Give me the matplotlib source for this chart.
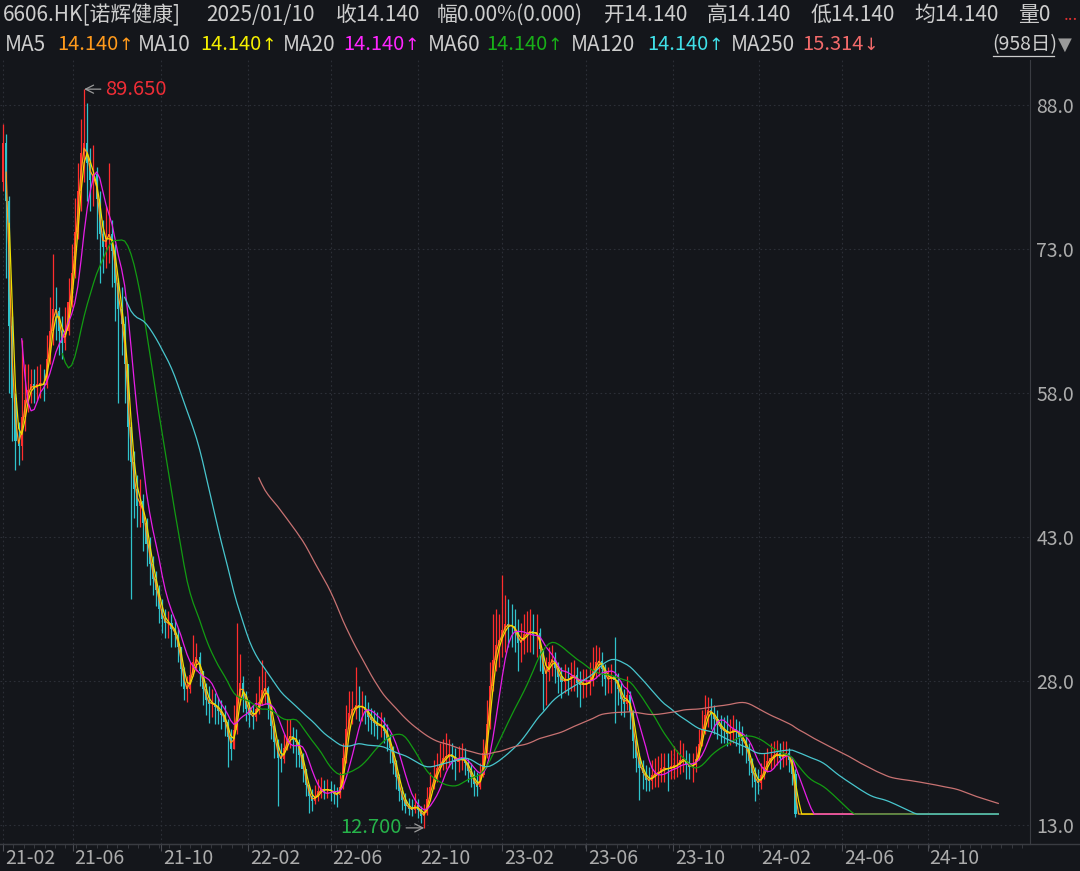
import numpy as np
import pandas as pd
import matplotlib
matplotlib.use('Agg')
import matplotlib.pyplot as plt
from matplotlib.lines import Line2D
from matplotlib.ticker import MultipleLocator

plt.rcParams['font.family'] = ['Noto Sans CJK SC', 'DejaVu Sans']

# Prices, one sample every 3 trading days from 2021-02-18
step = 3
close = [84, 78, 65, 57.5, 53, 52.5, 55.5, 57.3, 58.3, 58.9,
         58.5, 58.9, 59, 58.8, 61.5, 64.5, 66.8, 66.5, 64.5, 63.2,
         64.5, 67.5, 70.5, 74.8, 79, 83, 84, 82, 80.2, 80.8,
         78.2, 74.6, 73.2, 74.4, 74.6, 72.8, 69.5, 66.8, 65.2, 61,
         54.5, 50.8, 48, 46.2, 46.8, 44.5, 42.3, 40.2, 38.6, 37.5,
         35.5, 34.5, 34, 34, 33.4, 32.8, 31.5, 29.2, 27.2, 27.2,
         28.6, 30, 30.5, 29, 27.2, 26, 25.6, 25.7, 25.3, 24.9,
         24.5, 23.7, 22.2, 20.9, 22.9, 26.5, 27.8, 26.4, 25.1, 24.5,
         24.2, 25.1, 25.8, 27.1, 27.3, 25.5, 23.3, 21.6, 20, 19.9,
         21, 22.1, 22.3, 21.9, 21.6, 20.3, 18.8, 17.2, 16, 15.5,
         16, 16.5, 16.8, 16.6, 16.7, 16.5, 16.2, 16.1, 17, 20,
         23, 24.7, 25.1, 25.5, 25.3, 25.3, 25, 24.2, 23.9, 23.6,
         23.3, 23.4, 22.8, 22, 21, 19.5, 18, 16.5, 15.6, 15,
         14.7, 14.6, 15.1, 14.6, 13.9, 14.2, 15.7, 17, 18, 18.9,
         19.4, 20, 20.2, 20.4, 20.1, 19.6, 19.8, 20, 19.5, 18.6,
         18, 17.3, 17, 18.2, 20.5, 23.5, 27.5, 30.2, 31.7, 32.3,
         33.3, 33.9, 33.8, 33.7, 33.2, 32, 32.2, 32.9, 33, 33.2,
         32.9, 33, 31.3, 28.7, 28.9, 30, 30.3, 29.4, 28.4, 27.9,
         28.2, 28.1, 28.5, 28.6, 27.8, 27.6, 27.7, 27.7, 28.1, 29,
         30, 30.1, 29.3, 28.2, 28.2, 28.5, 28.1, 27.2, 26.1, 25.6,
         26.5, 24.8, 21.8, 20, 18.9, 18.4, 17.7, 17.6, 18.2, 18.4,
         18.4, 18.9, 18.9, 18.8, 19.1, 19.1, 19.3, 19.8, 19.9, 19.3,
         19, 19.2, 19.9, 21.4, 23, 24.5, 25, 24.7, 24, 23.4,
         23, 22.8, 22.5, 22.6, 23, 22.7, 22.2, 21.8, 21, 19.7,
         18.4, 17.5, 17.4, 18.2, 19, 19.7, 20, 20.3, 20.5, 20,
         20.3, 20.5, 19.8, 18.3, 14.14]
high = [86, 85, 78.5, 66, 58, 55, 63.5, 61, 61, 60.5,
        60.5, 60.8, 61, 60.5, 64, 68, 72.5, 69, 67, 66,
        67, 70, 73.5, 78.3, 82, 86.5, 89.65, 88.2, 83.5, 83.8,
        81.5, 79, 76, 77.5, 82, 76, 73.5, 70, 69, 66,
        61, 55, 52, 49.5, 49, 47.5, 45, 43, 41, 39.5,
        38, 36.5, 35.5, 35.3, 35, 34.5, 33.5, 31.5, 29.5, 28.5,
        30, 32.8, 32, 31, 29, 27.8, 27.5, 27.2, 26.8, 26.3,
        26, 25.5, 24, 23, 25.5, 34, 30.8, 28.5, 27, 26,
        25.5, 26.8, 28.5, 30.2, 29, 27.5, 25.5, 23.5, 22, 21.5,
        22.5, 24, 24, 23.2, 23, 22, 20.5, 18.8, 17.3, 16.8,
        17.2, 17.8, 18, 17.7, 17.8, 17.6, 17.3, 17, 18.5, 21.5,
        25.5, 27, 27, 29.5, 27.5, 27, 26.5, 25.8, 25.2, 25,
        24.8, 24.8, 24.2, 23.5, 22.5, 21.2, 19.8, 18.3, 17, 16.3,
        15.8, 15.7, 16.3, 15.7, 15, 15.2, 17, 18.5, 19.8, 20.5,
        21.5, 22, 22.6, 22, 21.5, 21, 21.2, 21.5, 21, 20,
        19.5, 18.7, 18.5, 19.5, 22, 26, 30, 35, 35.5, 35,
        39, 37, 36.5, 36, 35.5, 34.5, 34, 35, 35.3, 35.5,
        35, 35, 33.5, 31, 30.5, 31.5, 31.8, 31, 30, 29.5,
        29.8, 29.5, 30, 30.2, 29.5, 29, 29.3, 29.2, 30, 31.5,
        31.8, 31.5, 31, 29.8, 29.5, 29.8, 32.6, 28.8, 28, 27.2,
        28.5, 27, 25, 22, 20.5, 19.8, 19.2, 19, 19.8, 20,
        20.2, 20.5, 20.5, 20.5, 20.8, 21.2, 20.8, 21.9, 21.5, 20.8,
        20.5, 20.5, 21.2, 23, 25, 26.5, 26.3, 26.2, 25.5, 25,
        24.5, 24.3, 24.5, 24, 24.5, 24, 23.8, 23.3, 22.5, 21.5,
        20, 19, 18.8, 19.5, 20.5, 21, 21.5, 21.8, 21.9, 21.5,
        21.8, 21.8, 21, 20, 18.8]
low = [79, 70, 58, 53, 50, 50.5, 51, 54, 56, 57,
       57, 57.3, 57.5, 57.2, 58.5, 61, 63, 63.5, 62, 61.5,
       62.5, 64, 67, 70, 74, 77, 80, 78, 77, 77.5,
       74, 69.5, 70.5, 71, 71.5, 69, 65.5, 57, 62, 57,
       51, 36.5, 45, 44, 44, 41.5, 40, 38, 37, 35.8,
       34, 33, 32.5, 32.5, 31.5, 31.5, 30, 27.5, 26, 25.8,
       26.8, 28.5, 29, 27.5, 25.5, 24.5, 23.6, 24.3, 23.5, 23.5,
       23, 22.3, 19, 19.8, 21.5, 22.5, 25.5, 24.8, 23.8, 23.2,
       23, 23.8, 24.6, 25.5, 25.6, 24, 22, 20, 15, 18.5,
       19.5, 20.8, 21, 20.5, 19, 19, 17.5, 16, 14.3, 14.5,
       15.2, 15.5, 15.8, 15.7, 15.8, 15.5, 15.2, 14.9, 15.8, 16.8,
       19.5, 22.5, 23.5, 24, 23.8, 23.8, 23.5, 22.8, 22.5, 22.3,
       22, 22.2, 21.5, 20.7, 19.5, 18.3, 16.8, 15.5, 14.6, 14.2,
       14, 13.9, 14.2, 13.7, 13.2, 12.7, 14, 15.5, 16.8, 17.5,
       18, 18.7, 18.8, 19, 18.8, 17.7, 18.5, 18.7, 18.2, 17.5,
       17, 16, 16, 16.8, 18, 20, 23, 27, 29, 29.5,
       30.5, 31, 31.5, 31.5, 31, 29, 30, 30.8, 31, 31,
       30.8, 30.5, 29, 25, 25.5, 28, 28.5, 27.8, 26.8, 26.2,
       26.8, 26.5, 27, 27, 26.3, 25.3, 26.2, 26.3, 26.5, 27.5,
       28.3, 28.5, 27.5, 26.5, 26.8, 26.8, 23.6, 25.5, 24.5, 24.2,
       25, 23, 20, 18.5, 15.6, 16.8, 16.5, 16.5, 16.8, 17,
       17, 17.5, 17.5, 16.5, 17.8, 17.8, 18, 18.3, 18.5, 17.8,
       17.8, 17.5, 18.5, 19.8, 21.2, 22.5, 23.2, 23, 22.5, 22,
       21.5, 21.5, 21.2, 21.3, 21.5, 21.2, 20.5, 20.3, 19.5, 18.2,
       17, 15.5, 16.2, 16.8, 17.8, 18.5, 18.8, 19, 19.2, 18.8,
       19, 19.2, 18.5, 17.2, 13.8]
first_open = 80
# trading halted after the last real session, price held at 14.14
halt_price = 14.14
halt_samples = 65

month_days = [0, 67, 152, 236, 315, 399, 480, 561, 644, 727, 807, 889]
month_labels = ['21-02', '21-06', '21-10', '22-02', '22-06', '22-10',
                '23-02', '23-06', '23-10', '24-02', '24-06', '24-10']
price_ticks = [13, 28, 43, 58, 73, 88]

ma_periods = [5, 10, 20, 60, 120, 250]
ma_colors = ['#ff9a1c', '#f0e000', '#e81ee8', '#129c12', '#48c6ce', '#c87272']
ma_text_colors = ['#ff9a1c', '#f5f000', '#ff26ff', '#18b018', '#40e0e8', '#f26a6a']
ma_last = ['14.140', '14.140', '14.140', '14.140', '14.140', '15.314']
ma_arrow = ['↑', '↑', '↑', '↑', '↑', '↓']

header_items = ['6606.HK[诺辉健康]', '2025/01/10', '收14.140', '幅0.00%(0.000)',
                '开14.140', '高14.140', '低14.140', '均14.140', '量0']

peak_price, low_price = 89.65, 12.70

# ---- data ----
c_all = np.array(close + [halt_price] * halt_samples, dtype=float)
days = np.arange(len(c_all)) * step
n_live = len(close)
c = np.array(close, dtype=float)
o = np.concatenate([[first_open], c[:-1]])
h = np.maximum(np.array(high, dtype=float), np.maximum(o, c))
l = np.minimum(np.array(low, dtype=float), np.minimum(o, c))
d_live = days[:n_live]

bg = '#14161b'
grid_c = '#2c2f37'
txt = '#cdcdcd'
axis_txt = '#acacac'

W, H = 1080, 871
fig = plt.figure(figsize=(W / 100, H / 100), dpi=100, facecolor=bg)

# axes placed in pixel terms: left 0, right 1030, top 60, bottom 844
ax_l, ax_r, ax_t, ax_b = 0, 1030, 60, 844
ax = fig.add_axes([ax_l / W, (H - ax_b) / H, (ax_r - ax_l) / W, (ax_b - ax_t) / H])
ax.set_facecolor(bg)

px_per_day = 1.04
x0 = 3
ax.set_xlim((ax_l - x0) / px_per_day, (ax_r - x0) / px_per_day)
px_per_price = 9.6
ax.set_ylim(88 - (ax_b - 105) / px_per_price, 88 + (105 - ax_t) / px_per_price)

# grid
ax.set_yticks(price_ticks)
ax.set_xticks(month_days)
ax.grid(True, color=grid_c, linestyle=(0, (1.5, 2.5)), linewidth=0.8)
ax.set_axisbelow(True)

# candles
up = c >= o
col = np.where(up, '#ff2d2d', '#2fc3cb')
ax.vlines(d_live, l, h, colors=col, linewidth=0.9, zorder=2)
body = np.maximum(np.abs(c - o), 0.12)
ax.bar(d_live, body, bottom=np.minimum(o, c), width=2.0, color=col,
       linewidth=0, zorder=2)

# moving averages (windows expressed in samples of 3 days)
s = pd.Series(c_all)
for p, mc in zip(ma_periods, ma_colors):
    win = max(1, int(round(p / step)))
    ma = s.rolling(win).mean()
    ax.plot(days, ma, color=mc, linewidth=0.9, zorder=3)

# extreme labels
peak_d = d_live[int(np.argmax(h))]
low_d = d_live[int(np.argmin(l))]
ax.annotate('89.650', xy=(peak_d, peak_price), xytext=(15, 0), textcoords='offset points',
            color='#ee2d36', fontsize=14.5, va='center', ha='left',
            arrowprops=dict(arrowstyle='->', color='#9a9a9a', lw=0.9,
                            shrinkA=1, shrinkB=0), zorder=5)
ax.annotate('12.700', xy=(low_d, low_price), xytext=(-16, 0), textcoords='offset points',
            color='#26b34a', fontsize=14.5, va='center', ha='right',
            arrowprops=dict(arrowstyle='->', color='#9a9a9a', lw=0.9,
                            shrinkA=1, shrinkB=0), zorder=5)

# axes cosmetics
for side in ['top', 'left']:
    ax.spines[side].set_visible(False)
ax.spines['right'].set_color('#3a3c42')
ax.spines['bottom'].set_color('#3a3c42')
ax.yaxis.tick_right()
ax.set_yticklabels([f'{t:.1f}' for t in price_ticks], color=axis_txt, fontsize=14)
ax.tick_params(axis='y', length=0, pad=4.5)
ax.set_xticklabels([])
ax.xaxis.set_minor_locator(MultipleLocator(10))
ax.tick_params(axis='x', which='major', length=5, color='#4a4c52', direction='out')
ax.tick_params(axis='x', which='minor', length=3, color='#3c3e44', direction='out')
for dd, lab in zip(month_days, month_labels):
    ax.text(dd + 2 / px_per_day, -(858 - ax_b) / (ax_b - ax_t), lab,
            transform=ax.get_xaxis_transform(),
            ha='left', va='center', color=axis_txt, fontsize=14, clip_on=False)

# bottom separator runs across the whole width
fig.add_artist(Line2D([0, 1], [(H - ax_b) / H] * 2, color='#3a3c42', lw=1))


def ftext(x, y, s, color=txt, size=15, ha='left', **kw):
    fig.text(x / W, 1 - y / H, s, color=color, fontsize=size, va='center', ha=ha, **kw)


# header line 1
head_x = [3, 206, 336, 437, 604, 707, 811, 914, 1018]
for hx, item in zip(head_x, header_items):
    ftext(hx, 15, item)
ftext(1064, 15, '...', color='#e03030', size=12)

# header line 2: moving average readouts
name_x = [5, 138, 283, 428, 571, 731]
val_x = [57, 200, 343, 486, 647, 802]
for p, nx, vx, tc, v, a in zip(ma_periods, name_x, val_x, ma_text_colors, ma_last, ma_arrow):
    ftext(nx, 45, f'MA{p}')
    ftext(vx, 45, v, color=tc, size=14.5)
    ftext(vx + 61, 45, a, color=tc, size=12.5, family='DejaVu Sans')
ftext(992, 45, '(958日)', size=14)
fig.add_artist(Line2D([993 / W, 1054 / W], [1 - 56 / H] * 2, color=txt, lw=0.9))
ftext(1058, 45, '▼', color='#9a9a9a', size=13, family='DejaVu Sans')

fig.savefig('out.png', dpi=100, facecolor=bg)
